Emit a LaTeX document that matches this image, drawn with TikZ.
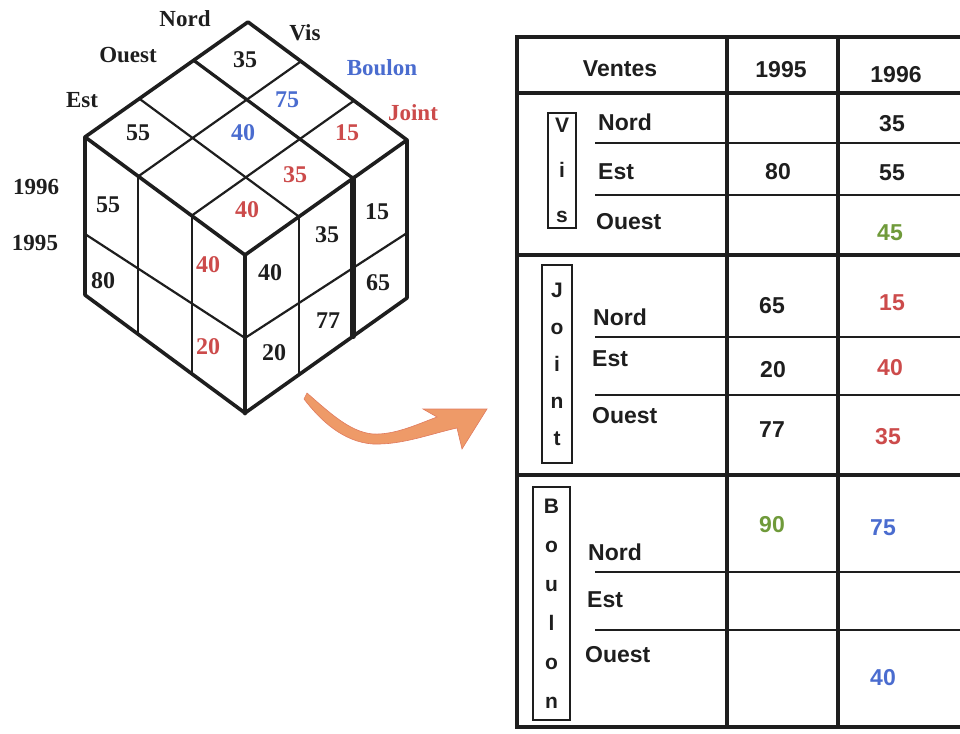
\documentclass[tikz,border=0pt]{standalone}
\usepackage{fontspec}
\setmainfont{Liberation Serif}
\setsansfont{Liberation Sans}
\usetikzlibrary{calc,positioning}
\definecolor{Ink}{HTML}{1E1E1E}
\definecolor{Rouge}{HTML}{CC4B4B}
\definecolor{Bleu}{HTML}{4A6CCF}
\definecolor{Vert}{HTML}{6F9A3A}
\definecolor{Orange}{HTML}{EE9A68}
\definecolor{OrangeDk}{HTML}{E07A5F}
\tikzset{
  cubeedge/.style={line width=3.6pt,draw=Ink,line cap=round,line join=round},
  cubegrid/.style={line width=2.2pt,draw=Ink,line cap=round},
  cubenum/.style={font=\fontsize{24}{26}\selectfont\bfseries,inner sep=0pt,text=Ink},
  cubelab/.style={font=\fontsize{23}{25}\selectfont\bfseries,inner sep=0pt,text=Ink},
  tframe/.style={line width=3.4pt,draw=Ink},
  tsplit/.style={line width=1.8pt,draw=Ink},
  tcell/.style={font=\sffamily\bfseries\fontsize{23}{25}\selectfont,inner sep=0pt,text=Ink},
  rowlab/.style={tcell,anchor=west},
  stackbox/.style={draw=Ink,line width=1.5pt,inner sep=0pt,align=center,text=Ink,
    font=\sffamily\bfseries\fontsize{21}{#1}\selectfont}
}
\begin{document}
\begin{tikzpicture}[x=1pt,y=-1pt]
  \useasboundingbox (0,0) rectangle (960,733);
  \clip (0,0) rectangle (960,733);

  % cube
  \coordinate (T) at (248,22);
  \coordinate (L) at (85,137);
  \coordinate (R) at (407,140);
  \coordinate (F) at (245,255);
  \coordinate (LB) at (85,295);
  \coordinate (B) at (245,413);
  \coordinate (RB) at (407,298);
  \foreach \k in {1,2}{
    \draw[cubegrid] ($(T)!\k/3!(L)$) -- ($(R)!\k/3!(F)$);
    \draw[cubegrid] ($(T)!\k/3!(R)$) -- ($(L)!\k/3!(F)$);
    \draw[cubegrid] ($(L)!\k/3!(F)$) -- ++(0,158);
    \draw[cubegrid] ($(F)!\k/3!(R)$) -- ++(0,158);
  }
  \draw[cubegrid,line width=3.2pt] ($(T)!1/3!(L)$) -- ($(R)!1/3!(F)$);
  \draw[cubegrid,line width=5.5pt] ($(F)!2/3!(R)$) -- ++(0,158);
  \draw[cubegrid] ($(L)+(0,97)$) -- ($(F)+(0,83)$) -- ($(R)+(0,93)$);
  \draw[cubeedge] (L) -- (T) -- (R) -- (RB) -- (B) -- (LB) -- cycle;
  \draw[cubeedge] (L) -- (F) -- (R);
  \draw[cubeedge,line width=4.8pt] (F) -- (B);

  % axis labels
  \node[cubelab] (nord) at (185,19) {Nord};
  \node[cubelab] (vis) at (305,33) {Vis};
  \node[cubelab] (ouest) at (128,55) {Ouest};
  \node[cubelab,text=Bleu] (boulon) at (382,68) {Boulon};
  \node[cubelab] (est) at (82,100) {Est};
  \node[cubelab,text=Rouge] (joint) at (413,113) {Joint};
  \node[cubelab] (an96) at (36,187) {1996};
  \node[cubelab] (an95) at (35,243) {1995};

  % top face
  \node[cubenum] (t1) at (245,60) {35};
  \node[cubenum,text=Bleu] (t2) at (287,100) {75};
  \node[cubenum,text=Bleu] (t3) at (243,133) {40};
  \node[cubenum] (t4) at (138,133) {55};
  \node[cubenum,text=Rouge] (t5) at (347,133) {15};
  \node[cubenum,text=Rouge] (t6) at (295,175) {35};
  \node[cubenum,text=Rouge] (t7) at (247,210) {40};
  % left face
  \node[cubenum] (l1) at (108,205) {55};
  \node[cubenum] (l2) at (103,281) {80};
  \node[cubenum,text=Rouge] (l3) at (208,265) {40};
  \node[cubenum,text=Rouge] (l4) at (208,347) {20};
  % right face
  \node[cubenum] (r1) at (270,273) {40};
  \node[cubenum] (r2) at (274,353) {20};
  \node[cubenum] (r3) at (327,235) {35};
  \node[cubenum] (r4) at (328,321) {77};
  \node[cubenum] (r5) at (377,212) {15};
  \node[cubenum] (r6) at (378,283) {65};

  % arrow
  \coordinate (atail) at (307,393);
  \coordinate (atip) at (487,409);
  \fill[Orange,draw=OrangeDk,line width=.6pt] (atail)
    .. controls (330,413) and (350,432) .. (373,434)
    .. controls (395,435) and (418,424) .. (437,417)
    -- (423,409) -- (atip) -- (462,449) -- (457,428)
    .. controls (430,434) and (402,445) .. (373,444)
    .. controls (343,442) and (320,420) .. (304,399) -- cycle;

  % table
  \draw[tframe] (975,37) -- (517,37) -- (517,727) -- (975,727);
  \foreach \y in {93,255,475} \draw[tframe] (517,\y) -- (975,\y);
  \foreach \x in {727,838} \draw[tframe] (\x,37) -- (\x,727);
  \foreach \y in {143,195,337,395,572,630} \draw[tsplit] (595,\y) -- (975,\y);

  \node[tcell] (ventes) at (620,69) {Ventes};
  \node[tcell] (h95) at (781,70) {1995};
  \node[tcell] (h96) at (896,75) {1996};

  \node[stackbox=45,minimum width=28pt,minimum height=115pt] (bvis) at (562,170.5) {V\\i\\s};
  \node[stackbox=37,minimum width=30pt,minimum height=198pt] (bjoint) at (557,364) {J\\o\\i\\n\\t};
  \node[stackbox=39,minimum width=37pt,minimum height=233pt] (bboulon) at (551.5,603.5) {B\\o\\u\\l\\o\\n};

  \node[rowlab] (vn) at (598,122) {Nord};
  \node[rowlab] (ve) at (598,172) {Est};
  \node[rowlab] (vo) at (596,222) {Ouest};
  \node[rowlab] (jn) at (593,317) {Nord};
  \node[rowlab] (je) at (592,359) {Est};
  \node[rowlab] (jo) at (592,416) {Ouest};
  \node[rowlab] (bn) at (588,552) {Nord};
  \node[rowlab] (be) at (587,600) {Est};
  \node[rowlab] (bo) at (585,655) {Ouest};

  \node[tcell] (vn96) at (892,124) {35};
  \node[tcell] (ve95) at (778,172) {80};
  \node[tcell] (ve96) at (892,173) {55};
  \node[tcell,text=Vert] (vo96) at (890,233) {45};
  \node[tcell] (jn95) at (772,306) {65};
  \node[tcell,text=Rouge] (jn96) at (892,303) {15};
  \node[tcell] (je95) at (773,370) {20};
  \node[tcell,text=Rouge] (je96) at (890,368) {40};
  \node[tcell] (jo95) at (772,430) {77};
  \node[tcell,text=Rouge] (jo96) at (888,437) {35};
  \node[tcell,text=Vert] (bn95) at (772,525) {90};
  \node[tcell,text=Bleu] (bn96) at (883,528) {75};
  \node[tcell,text=Bleu] (bo96) at (883,678) {40};
\end{tikzpicture}
\end{document}
